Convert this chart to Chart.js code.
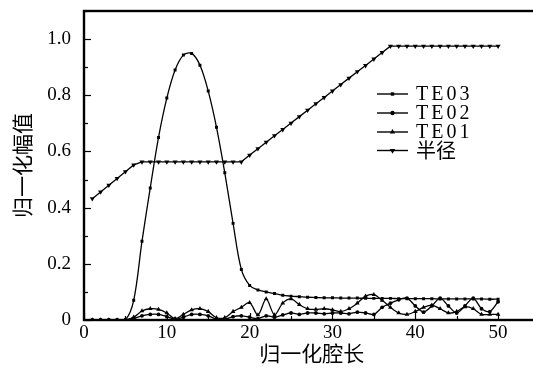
<!DOCTYPE html>
<html>
<head>
<meta charset="utf-8">
<script src="https://cdn.jsdelivr.net/npm/chart.js@4.4.1/dist/chart.umd.min.js"></script>
<style>
  html, body { margin: 0; padding: 0; background: #fff; overflow: hidden; }
  #wrap { width: 560px; height: 374px; position: relative; }
</style>
</head>
<body>
<div id="wrap"><canvas id="c"></canvas></div>
<script>
// 横軸：归一化腔长
const xs = [1, 2, 3, 4, 5, 6, 7, 8, 9, 10,
  11, 12, 13, 14, 15, 16, 17, 18, 19, 20,
  21, 22, 23, 24, 25, 26, 27, 28, 29, 30,
  31, 32, 33, 34, 35, 36, 37, 38, 39, 40,
  41, 42, 43, 44, 45, 46, 47, 48, 49, 50];

const te03 = [0, 0, 0, 0, 0, 0.07, 0.28, 0.47, 0.65, 0.79,
  0.89, 0.943, 0.949, 0.907, 0.815, 0.686, 0.524, 0.344, 0.18, 0.123,
  0.107, 0.1, 0.094, 0.088, 0.085, 0.083, 0.081, 0.08, 0.079, 0.079,
  0.078, 0.078, 0.078, 0.077, 0.077, 0.077, 0.077, 0.076, 0.076, 0.076,
  0.076, 0.076, 0.075, 0.075, 0.075, 0.075, 0.075, 0.075, 0.074, 0.074];

const te02 = [0, 0, 0, 0, 0, 0.005, 0.015, 0.02, 0.02, 0.012,
  0.003, 0.01, 0.02, 0.02, 0.015, 0.003, 0.003, 0.012, 0.015, 0.01,
  0.005, 0.015, 0.01, 0.018, 0.025, 0.02, 0.025, 0.025, 0.022, 0.025,
  0.025, 0.022, 0.028, 0.025, 0.02, 0.045, 0.06, 0.072, 0.078, 0.05,
  0.028, 0.05, 0.078, 0.05, 0.025, 0.05, 0.078, 0.04, 0.03, 0.065];

const te01 = [0, 0, 0, 0, 0, 0.01, 0.032, 0.04, 0.038, 0.025,
  0.005, 0.02, 0.036, 0.04, 0.03, 0.008, 0.008, 0.03, 0.045, 0.062,
  0.018, 0.075, 0.018, 0.06, 0.075, 0.055, 0.04, 0.038, 0.04, 0.036,
  0.03, 0.04, 0.06, 0.085, 0.09, 0.07, 0.045, 0.025, 0.02, 0.03,
  0.045, 0.053, 0.04, 0.025, 0.03, 0.047, 0.04, 0.02, 0.02, 0.02];

const radius = [0.432, 0.456, 0.48, 0.504, 0.528, 0.552, 0.563, 0.563, 0.563, 0.563,
  0.563, 0.563, 0.563, 0.563, 0.563, 0.563, 0.563, 0.563, 0.563, 0.587,
  0.61, 0.633, 0.656, 0.678, 0.701, 0.724, 0.747, 0.77, 0.792, 0.815,
  0.838, 0.861, 0.884, 0.906, 0.929, 0.952, 0.975, 0.975, 0.975, 0.975,
  0.975, 0.975, 0.975, 0.975, 0.975, 0.975, 0.975, 0.975, 0.975, 0.975];

const seriesNames = ['TE03', 'TE02', 'TE01', '半径'];
const yTicks = [0, 0.2, 0.4, 0.6, 0.8, 1.0];
const xTicks = [0, 10, 20, 30, 40, 50];

const serif = "'Liberation Serif', 'DejaVu Serif', serif";
const cjk = "'Noto Sans CJK SC', sans-serif";

function pts(arr) {
  return xs.map((x, i) => ({ x: x, y: arr[i] }));
}

function ds(label, arr, style, r, rot, tension) {
  return {
    label: label,
    data: pts(arr),
    borderColor: '#000',
    backgroundColor: '#000',
    borderWidth: 1.3,
    pointStyle: style,
    pointRadius: r,
    pointRotation: rot,
    pointBorderWidth: 0,
    tension: tension
  };
}

// 枠・目盛・凡例
const framePlugin = {
  id: 'frame',
  afterDraw(chart) {
    const ctx = chart.ctx, a = chart.chartArea;
    const sx = chart.scales.x, sy = chart.scales.y;
    ctx.save();
    ctx.strokeStyle = '#000';
    ctx.lineWidth = 1.2;
    // minor / major ticks
    for (let v = 0; v <= 1.1001; v += 0.1) {
      const y = Math.round(sy.getPixelForValue(v)) + 0.5;
      const major = Math.round(v * 10) % 2 === 0;
      ctx.beginPath();
      ctx.moveTo(a.left, y);
      ctx.lineTo(a.left + (major ? 7 : 4), y);
      ctx.stroke();
    }
    for (let v = 0; v <= 55; v += 5) {
      const x = Math.round(sx.getPixelForValue(v)) + 0.5;
      const major = v % 10 === 0;
      ctx.beginPath();
      ctx.moveTo(x, a.bottom);
      ctx.lineTo(x, a.bottom - (major ? 7 : 4));
      ctx.stroke();
    }
    ctx.lineWidth = 2.4;
    ctx.strokeRect(a.left, a.top, a.right - a.left, a.bottom - a.top);

    // legend
    const rows = [94, 113, 132, 150.5];
    chart.data.datasets.forEach((d, i) => {
      const y = rows[i];
      ctx.lineWidth = 1.4;
      ctx.beginPath();
      ctx.moveTo(377, y);
      ctx.lineTo(408, y);
      ctx.stroke();
      Chart.helpers.drawPoint(ctx, {
        pointStyle: d.pointStyle, radius: d.pointRadius + 0.3,
        rotation: d.pointRotation, borderWidth: 0
      }, 392.5, y);
      ctx.fillStyle = '#000';
      ctx.textBaseline = 'middle';
      ctx.textAlign = 'left';
      if (i < 3) {
        ctx.font = '20px ' + serif;
        ctx.letterSpacing = '3px';
        ctx.fillText(d.label, 416, y + 1);
      } else {
        ctx.font = '20px ' + cjk;
        ctx.letterSpacing = '0px';
        ctx.fillText(d.label, 416, y);
      }
    });
    ctx.restore();
  }
};

new Chart(document.getElementById('c'), {
  type: 'line',
  data: {
    datasets: [
      ds(seriesNames[0], te03, 'rect', 2.1, 0, 0.35),
      ds(seriesNames[1], te02, 'circle', 1.9, 0, 0.3),
      ds(seriesNames[2], te01, 'triangle', 2.7, 0, 0.3),
      ds(seriesNames[3], radius, 'triangle', 2.9, 180, 0)
    ]
  },
  options: {
    responsive: true,
    maintainAspectRatio: false,
    animation: false,
    layout: { padding: { top: 11, right: 20.5, left: 0, bottom: 0 } },
    plugins: { legend: { display: false }, tooltip: { enabled: false } },
    scales: {
      x: {
        type: 'linear',
        min: 0,
        max: 55,
        afterFit: s => { s.height = 54; s.paddingTop = 0; s.paddingBottom = 0; },
        afterBuildTicks: s => { s.ticks = xTicks.map(v => ({ value: v })); },
        grid: { display: false, drawTicks: false },
        border: { display: false },
        ticks: {
          padding: 2,
          color: '#000',
          font: { family: serif, size: 19 },
          maxRotation: 0
        },
        title: {
          display: true,
          text: '归一化腔长',
          color: '#000',
          font: { family: cjk, size: 21 },
          padding: { top: 0, bottom: 8 }
        }
      },
      y: {
        min: 0,
        max: 1.1,
        afterFit: s => { s.width = 84; s.paddingTop = 0; s.paddingBottom = 0; },
        afterBuildTicks: s => { s.ticks = yTicks.map(v => ({ value: v })); },
        grid: { display: false, drawTicks: false },
        border: { display: false },
        ticks: {
          padding: 13,
          color: '#000',
          font: { family: serif, size: 19 },
          callback: v => v === 0 ? '0' : v.toFixed(1)
        },
        title: {
          display: true,
          text: '归一化幅值',
          color: '#000',
          font: { family: cjk, size: 21 },
          padding: { top: 9, bottom: 0 }
        }
      }
    }
  },
  plugins: [framePlugin]
});
</script>
</body>
</html>
